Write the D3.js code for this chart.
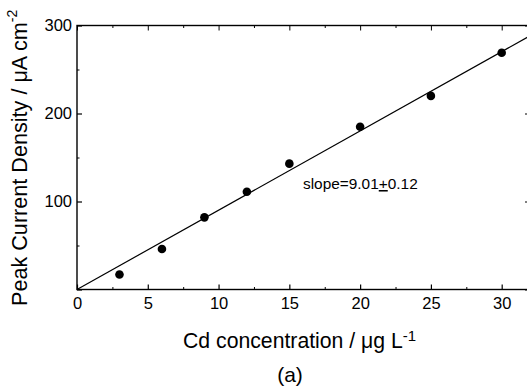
<!DOCTYPE html>
<html>
<head>
<meta charset="utf-8">
<script src="https://cdn.jsdelivr.net/npm/d3@7"></script>
<style>
  html, body { margin: 0; padding: 0; background: #fff; overflow: hidden; }
  text { font-family: "Liberation Sans", Arial, sans-serif; fill: #000; }
</style>
</head>
<body>
<svg id="chart" width="527" height="389"></svg>
<script>
// Data
const concentrations = [3, 6, 9, 12, 15, 20, 25, 30];
const currentDensity = [17, 46, 82, 111, 143, 185, 220, 269];
const fitSlope = 9.01;
const fitIntercept = 0;
const fitRange = [0, 32];
const xMajorTicks = [0, 5, 10, 15, 20, 25, 30];
const xMinorTicks = [2.5, 7.5, 12.5, 17.5, 22.5, 27.5];
const yMajorTicks = [0, 100, 200, 300];
const yMinorTicks = [50, 150, 250];
const yTickLabels = [100, 200, 300];

const svg = d3.select("#chart");
const x = d3.scaleLinear().domain([0, 32]).range([77, 530]);
const y = d3.scaleLinear().domain([0, 300]).range([289.5, 25.5]);

const g = svg.append("g");

// frame
g.append("rect").attr("x", x(0)).attr("y", y(300))
  .attr("width", x(32) - x(0)).attr("height", y(0) - y(300))
  .attr("fill", "none").attr("stroke", "#000").attr("stroke-width", 1.4);

// bottom axis
const xb = d3.axisBottom(x).tickValues(xMajorTicks).tickSizeInner(-5).tickSizeOuter(0).tickPadding(7.5).tickFormat(d3.format("d"));
const xbG = g.append("g").attr("transform", `translate(0,${y(0)})`).call(xb);
xbG.select(".domain").remove();
xbG.selectAll("text").attr("font-size", 16.5).attr("font-family", "Liberation Sans, Arial, sans-serif");
xbG.selectAll("line").attr("stroke-width", 1.2);
const xbm = d3.axisBottom(x).tickValues(xMinorTicks).tickSizeInner(-2.5).tickSizeOuter(0).tickFormat("");
const xbmG = g.append("g").attr("transform", `translate(0,${y(0)})`).call(xbm);
xbmG.select(".domain").remove();

// top axis
const xt = d3.axisTop(x).tickValues(xMajorTicks).tickSizeInner(-5).tickSizeOuter(0).tickFormat("");
const xtG = g.append("g").attr("transform", `translate(0,${y(300)})`).call(xt);
xtG.select(".domain").remove();
const xtm = d3.axisTop(x).tickValues(xMinorTicks).tickSizeInner(-2.5).tickSizeOuter(0).tickFormat("");
const xtmG = g.append("g").attr("transform", `translate(0,${y(300)})`).call(xtm);
xtmG.select(".domain").remove();

// left axis
const yl = d3.axisLeft(y).tickValues(yMajorTicks).tickSizeInner(-5).tickSizeOuter(0).tickPadding(5)
  .tickFormat(d => yTickLabels.includes(d) ? d : "");
const ylG = g.append("g").attr("transform", `translate(${x(0)},0)`).call(yl);
ylG.select(".domain").remove();
ylG.selectAll("text").attr("font-size", 16.5).attr("font-family", "Liberation Sans, Arial, sans-serif");
ylG.selectAll("line").attr("stroke-width", 1.2);
const ylm = d3.axisLeft(y).tickValues(yMinorTicks).tickSizeInner(-2.5).tickSizeOuter(0).tickFormat("");
const ylmG = g.append("g").attr("transform", `translate(${x(0)},0)`).call(ylm);
ylmG.select(".domain").remove();

// right axis
const yr = d3.axisRight(y).tickValues(yMajorTicks).tickSizeInner(-5).tickSizeOuter(0).tickFormat("");
const yrG = g.append("g").attr("transform", `translate(${x(32)},0)`).call(yr);
yrG.select(".domain").remove();
const yrm = d3.axisRight(y).tickValues(yMinorTicks).tickSizeInner(-2.5).tickSizeOuter(0).tickFormat("");
const yrmG = g.append("g").attr("transform", `translate(${x(32)},0)`).call(yrm);
yrmG.select(".domain").remove();

// fit line
const fitData = fitRange.map(v => [v, fitIntercept + fitSlope * v]);
g.append("path").datum(fitData)
  .attr("d", d3.line().x(d => x(d[0])).y(d => y(d[1])))
  .attr("fill", "none").attr("stroke", "#000").attr("stroke-width", 1.2);

// points
g.selectAll("circle.pt").data(concentrations).join("circle")
  .attr("class", "pt")
  .attr("cx", d => x(d))
  .attr("cy", (d, i) => y(currentDensity[i]))
  .attr("r", 4.3).attr("fill", "#000");

// slope annotation
const st = g.append("text").attr("x", 303).attr("y", 189).attr("font-size", 15.4);
st.append("tspan").text("slope=9.01");
st.append("tspan").attr("text-decoration", "underline").text("+");
st.append("tspan").text("0.12");

// fit a tspan's font size so its length matches a target span
function fitFont(textSel, tspanSel, target, base) {
  const len = tspanSel.node().getComputedTextLength();
  if (len > 0) textSel.attr("font-size", base * target / len);
}

// x label
const xl = svg.append("text").attr("x", 183).attr("y", 348).attr("font-size", 21);
const xlMain = xl.append("tspan").text("Cd concentration / μg L");
xl.append("tspan").attr("font-size", 15).attr("dy", -7).text("-1");
fitFont(xl, xlMain, 220, 21);

// y label
const ylab = svg.append("text").attr("transform", "translate(26.5,306) rotate(-90)").attr("font-size", 21.5);
const ylMain = ylab.append("tspan").text("Peak Current Density / μA cm");
ylab.append("tspan").attr("font-size", 14).attr("dy", -10).text("-2");
fitFont(ylab, ylMain, 284, 21.5);

// panel label
svg.append("text").attr("x", 290).attr("y", 382).attr("text-anchor", "middle").attr("font-size", 21).text("(a)");
</script>
</body>
</html>
